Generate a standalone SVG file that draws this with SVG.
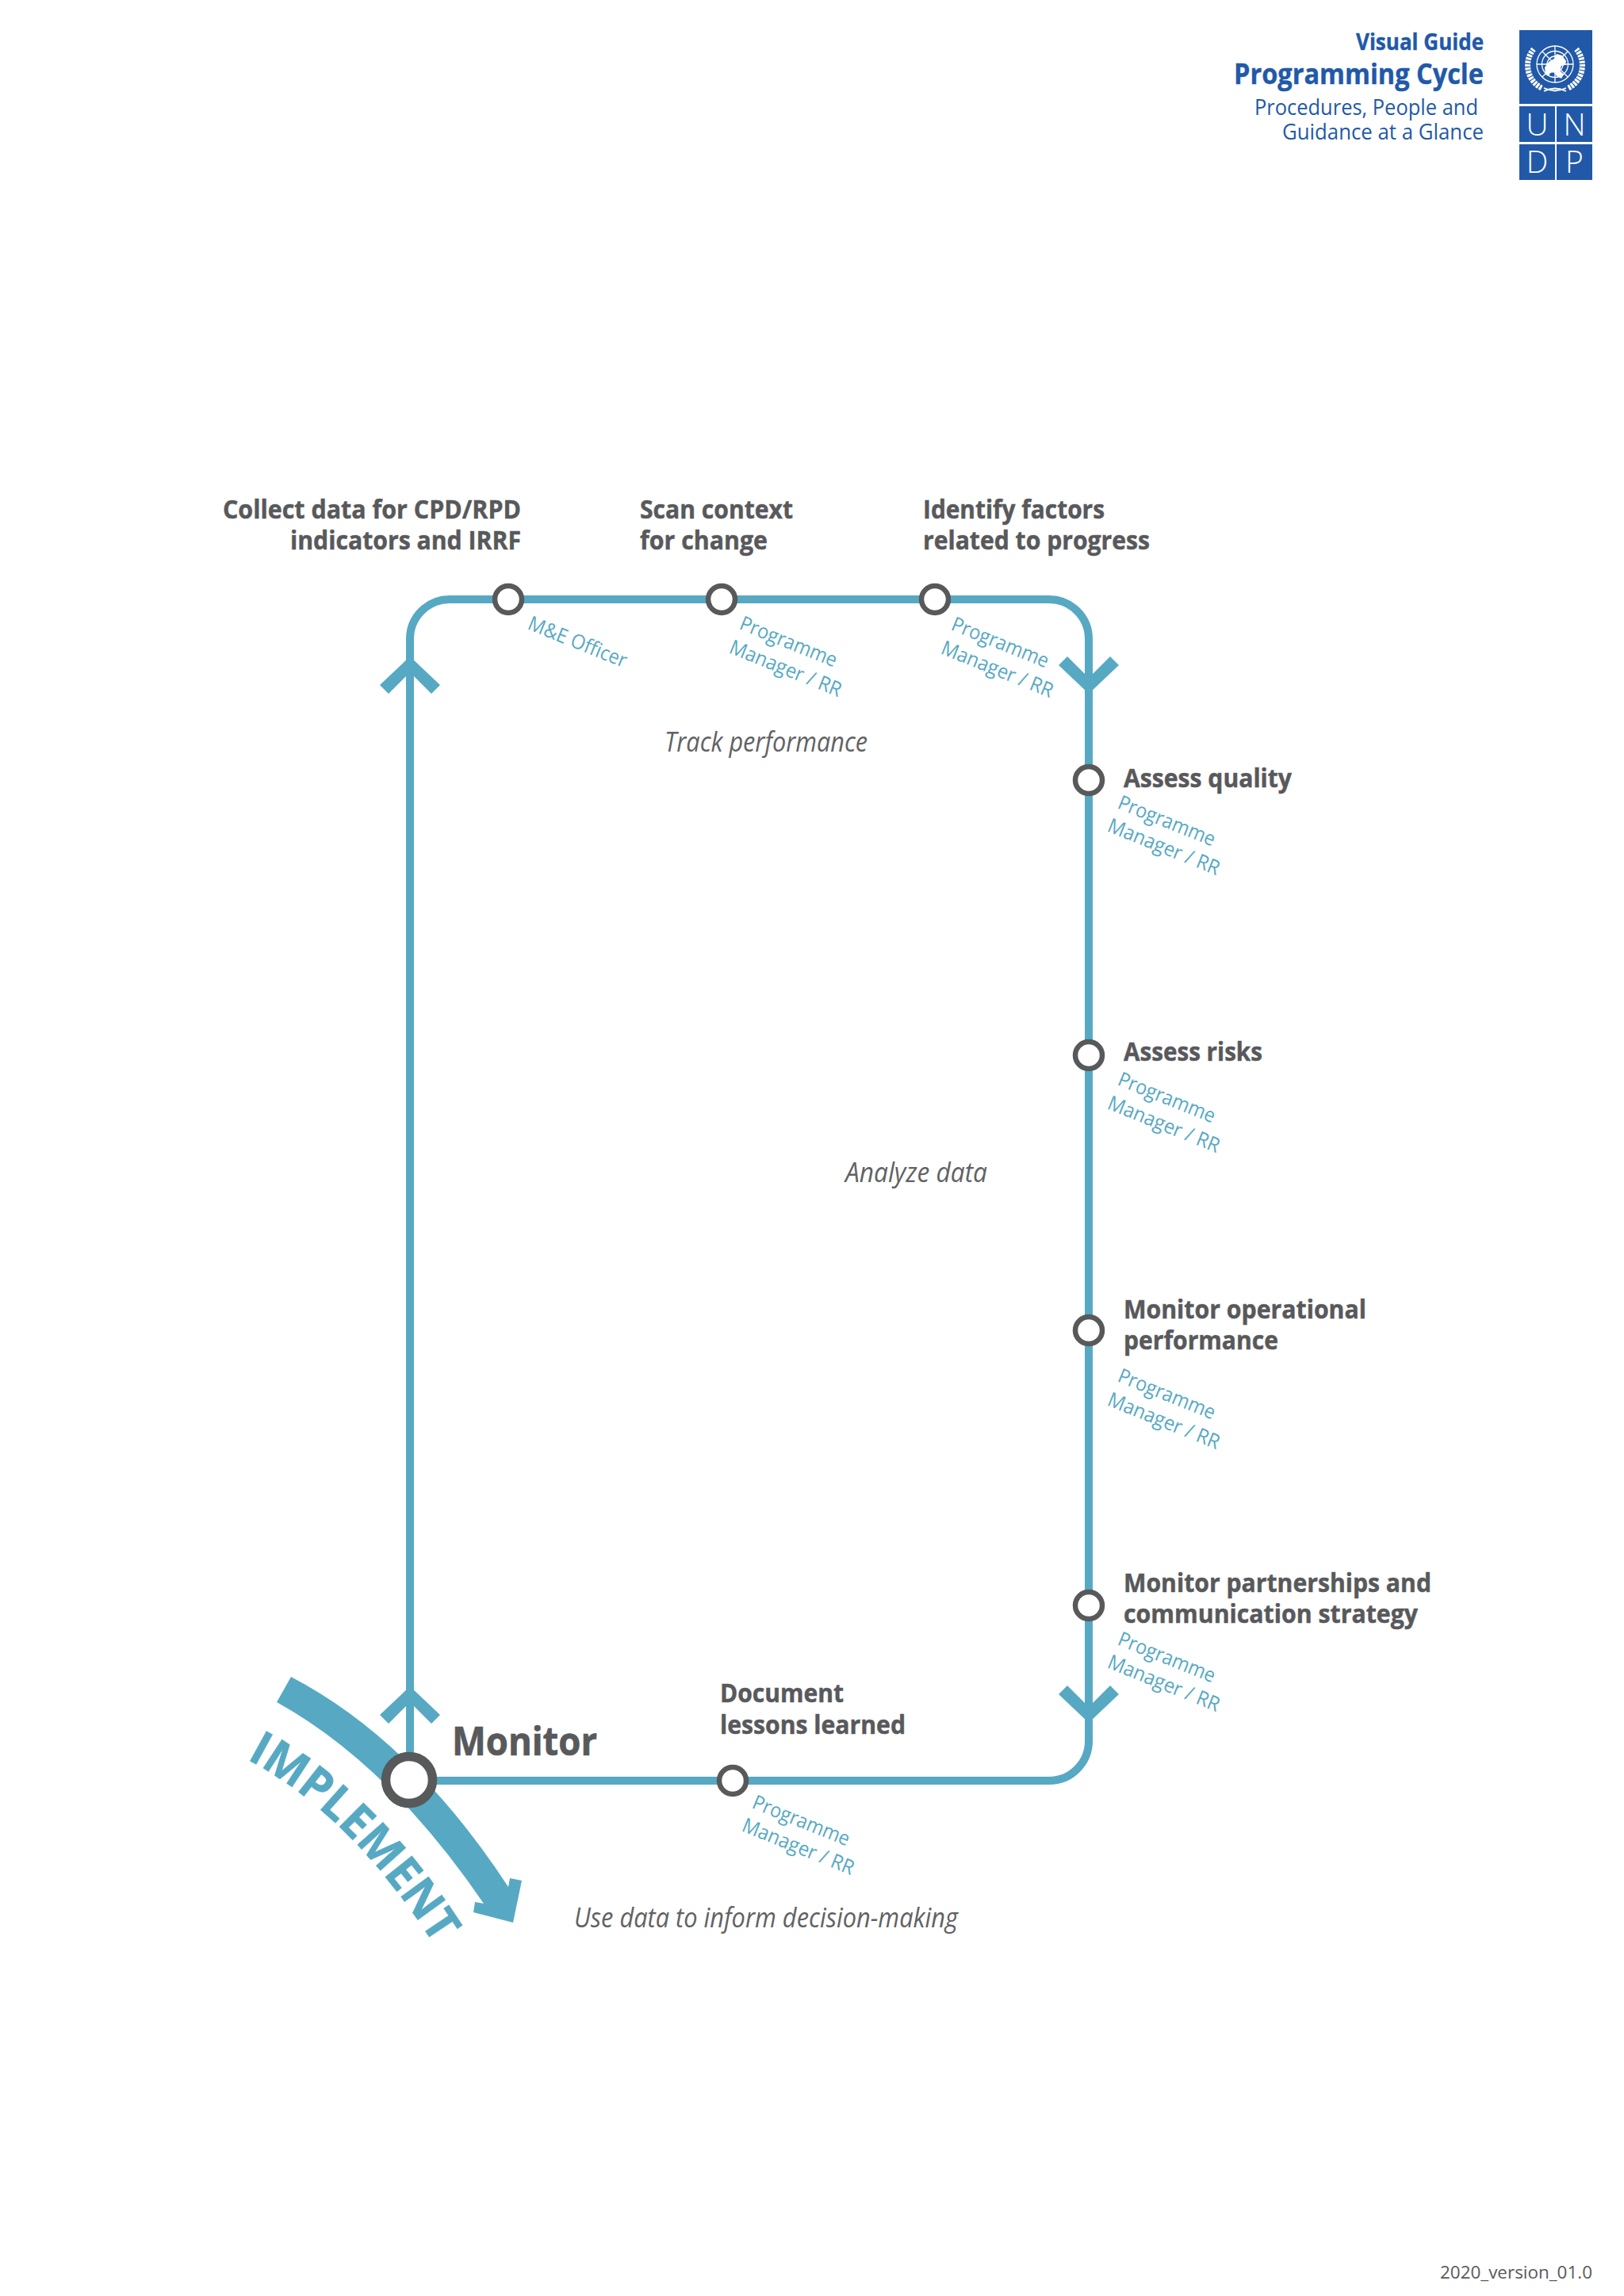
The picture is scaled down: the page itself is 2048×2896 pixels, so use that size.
<svg xmlns="http://www.w3.org/2000/svg" xmlns:xlink="http://www.w3.org/1999/xlink" width="2048" height="2896" viewBox="0 0 2048 2896">
<style>
text{font-family:"Open Sans","Noto Sans","Liberation Sans",sans-serif}
.h{font-size:33px;font-weight:700;fill:#58595B;stroke:#58595B;stroke-width:.5px}
.i{font-size:34px;font-style:italic;font-weight:400;fill:#616264}
.t{font-size:25.5px;fill:#57A9C3}
.b{fill:#2159A8}
.hb{font-weight:700;fill:#2159A8;stroke:#2159A8;stroke-width:.4px}
.hr{font-size:28px;fill:#2159A8}
.u{font-size:39px;font-weight:300;fill:#fff;text-anchor:middle}
.line{fill:none;stroke:#57A9C3;stroke-width:10}
.teal{fill:#57A9C3}
.n{fill:#fff;stroke:#58595B;stroke-width:6.5}
.w{fill:none;stroke:#fff;stroke-width:1.3}
</style>
<defs>
<path id="chev" d="M0,0L38,36L27,47L0,20L-27,47L-38,36Z"/>
<path id="implPath" d="M311,2219Q440,2286 547,2452"/>
</defs>
<rect width="2048" height="2896" fill="#fff"/>

<g id="header">
<text class="hb" x="1710" y="63" font-size="28" textLength="161" lengthAdjust="spacingAndGlyphs">Visual Guide</text>
<text class="hb" x="1556" y="106" font-size="35" textLength="315" lengthAdjust="spacingAndGlyphs">Programming Cycle</text>
<text class="hr" x="1582" y="145" textLength="282" lengthAdjust="spacingAndGlyphs">Procedures, People and</text>
<text class="hr" x="1617" y="176" textLength="254" lengthAdjust="spacingAndGlyphs">Guidance at a Glance</text>
</g>

<g id="logo">
<rect class="b" x="1916" y="38" width="92" height="93"/>
<rect class="b" x="1916" y="134" width="45" height="45"/>
<rect class="b" x="1963" y="134" width="45" height="45"/>
<rect class="b" x="1916" y="182" width="45" height="45"/>
<rect class="b" x="1963" y="182" width="45" height="45"/>
<text class="u" x="1938.5" y="171">U</text>
<text class="u" x="1985.5" y="171">N</text>
<text class="u" x="1938.5" y="218">D</text>
<text class="u" x="1985.5" y="218">P</text>
<g id="emblem">
<circle class="w" cx="1961" cy="81" r="23"/>
<circle class="w" cx="1961" cy="81" r="16.5"/>
<circle class="w" cx="1961" cy="81" r="10"/>
<path class="w" d="M1961,58V104M1938,81H1984M1945,65L1977,97M1977,65L1945,97"/>
<path fill="#fff" d="M1948,85l5,-7l7,-4l3,-6l7,2l5,7l-1,5l-5,1l-2,6l5,5l-3,5l-6,-3l-3,-5l-5,1l-2,4l-4,-2z"/>
<path fill="none" stroke="#fff" stroke-width="7" stroke-dasharray="3 1.2" d="M1944,111A32,32 0 0 1 1934,62"/>
<path fill="none" stroke="#fff" stroke-width="7" stroke-dasharray="3 1.2" d="M1978,111A32,32 0 0 0 1988,62"/>
<path fill="none" stroke="#fff" stroke-width="1.8" d="M1947,111Q1961,118 1975,111M1947,115Q1961,108 1975,115"/>
</g>
</g>

<g id="connectors">
<path class="line" d="M517,2246V806A50,50 0 0 1 567,756H1323A50,50 0 0 1 1373,806V2196A50,50 0 0 1 1323,2246H517"/>
<use class="teal" xlink:href="#chev" href="#chev" transform="translate(517,828)"/>
<use class="teal" xlink:href="#chev" href="#chev" transform="translate(517,2127)"/>
<use class="teal" xlink:href="#chev" href="#chev" transform="translate(1373,875) scale(1,-1)"/>
<use class="teal" xlink:href="#chev" href="#chev" transform="translate(1373,2173) scale(1,-1)"/>
</g>

<g id="implement">
<path class="teal" d="M367,2115Q520,2195 641,2380L643,2369L658,2372L647,2425L597,2412L599,2399L610,2401Q490,2225 349,2147Z"/>
<text font-size="60" font-weight="700" fill="#57A9C3" stroke="#57A9C3" stroke-width=".6" textLength="337" lengthAdjust="spacingAndGlyphs"><textPath xlink:href="#implPath" href="#implPath">IMPLEMENT</textPath></text>
</g>

<g id="node-monitor">
<circle cx="516" cy="2245" r="29.5" fill="#fff" stroke="#58595B" stroke-width="11.5"/>
<text x="570" y="2214" font-size="50" font-weight="700" fill="#58595B" stroke="#58595B" stroke-width=".7" textLength="183" lengthAdjust="spacingAndGlyphs">Monitor</text>
</g>

<g id="node-collect">
<circle class="n" cx="641" cy="756" r="17"/>
<text class="h" x="281" y="654" textLength="376" lengthAdjust="spacingAndGlyphs">Collect data for CPD/RPD</text>
<text class="h" x="366" y="693" textLength="291" lengthAdjust="spacingAndGlyphs">indicators and IRRF</text>
<text class="t" transform="translate(664,793) rotate(22)" textLength="132" lengthAdjust="spacingAndGlyphs">M&amp;E Officer</text>
</g>

<g id="node-scan">
<circle class="n" cx="910" cy="756" r="17"/>
<text class="h" x="807" y="654" textLength="193" lengthAdjust="spacingAndGlyphs">Scan context</text>
<text class="h" x="807" y="693" textLength="161" lengthAdjust="spacingAndGlyphs">for change</text>
<text class="t" transform="translate(931,793) rotate(22)" textLength="130" lengthAdjust="spacingAndGlyphs">Programme</text>
<text class="t" transform="translate(918,823) rotate(22)" textLength="150" lengthAdjust="spacingAndGlyphs">Manager / RR</text>
</g>

<g id="node-identify">
<circle class="n" cx="1179" cy="756" r="17"/>
<text class="h" x="1164" y="654" textLength="229" lengthAdjust="spacingAndGlyphs">Identify factors</text>
<text class="h" x="1164" y="693" textLength="286" lengthAdjust="spacingAndGlyphs">related to progress</text>
<text class="t" transform="translate(1198,794) rotate(22)" textLength="130" lengthAdjust="spacingAndGlyphs">Programme</text>
<text class="t" transform="translate(1185,824) rotate(22)" textLength="150" lengthAdjust="spacingAndGlyphs">Manager / RR</text>
</g>

<g id="node-quality">
<circle class="n" cx="1373" cy="984" r="17"/>
<text class="h" x="1417" y="993" textLength="212" lengthAdjust="spacingAndGlyphs">Assess quality</text>
<text class="t" transform="translate(1408,1019) rotate(22)" textLength="130" lengthAdjust="spacingAndGlyphs">Programme</text>
<text class="t" transform="translate(1395,1048) rotate(22)" textLength="150" lengthAdjust="spacingAndGlyphs">Manager / RR</text>
</g>

<g id="node-risks">
<circle class="n" cx="1373" cy="1331" r="17"/>
<text class="h" x="1417" y="1338" textLength="175" lengthAdjust="spacingAndGlyphs">Assess risks</text>
<text class="t" transform="translate(1408,1368) rotate(22)" textLength="130" lengthAdjust="spacingAndGlyphs">Programme</text>
<text class="t" transform="translate(1395,1398) rotate(22)" textLength="150" lengthAdjust="spacingAndGlyphs">Manager / RR</text>
</g>

<g id="node-operational">
<circle class="n" cx="1373" cy="1678" r="17"/>
<text class="h" x="1417" y="1663" textLength="306" lengthAdjust="spacingAndGlyphs">Monitor operational</text>
<text class="h" x="1417" y="1702" textLength="195" lengthAdjust="spacingAndGlyphs">performance</text>
<text class="t" transform="translate(1408,1742) rotate(22)" textLength="130" lengthAdjust="spacingAndGlyphs">Programme</text>
<text class="t" transform="translate(1395,1772) rotate(22)" textLength="150" lengthAdjust="spacingAndGlyphs">Manager / RR</text>
</g>

<g id="node-partnerships">
<circle class="n" cx="1373" cy="2025" r="17"/>
<text class="h" x="1417" y="2008" textLength="388" lengthAdjust="spacingAndGlyphs">Monitor partnerships and</text>
<text class="h" x="1417" y="2047" textLength="371" lengthAdjust="spacingAndGlyphs">communication strategy</text>
<text class="t" transform="translate(1408,2074) rotate(22)" textLength="130" lengthAdjust="spacingAndGlyphs">Programme</text>
<text class="t" transform="translate(1395,2103) rotate(22)" textLength="150" lengthAdjust="spacingAndGlyphs">Manager / RR</text>
</g>

<g id="node-document">
<circle class="n" cx="924" cy="2246" r="17"/>
<text class="h" x="908" y="2147" textLength="156" lengthAdjust="spacingAndGlyphs">Document</text>
<text class="h" x="908" y="2187" textLength="234" lengthAdjust="spacingAndGlyphs">lessons learned</text>
<text class="t" transform="translate(947,2280) rotate(22)" textLength="130" lengthAdjust="spacingAndGlyphs">Programme</text>
<text class="t" transform="translate(934,2309) rotate(22)" textLength="150" lengthAdjust="spacingAndGlyphs">Manager / RR</text>
</g>

<g id="phases">
<text class="i" x="838" y="948" textLength="256" lengthAdjust="spacingAndGlyphs">Track performance</text>
<text class="i" x="1066" y="1491" textLength="179" lengthAdjust="spacingAndGlyphs">Analyze data</text>
<text class="i" x="724" y="2431" textLength="484" lengthAdjust="spacingAndGlyphs">Use data to inform decision-making</text>
</g>

<text x="1816" y="2874" font-size="22" fill="#58595B" textLength="192" lengthAdjust="spacingAndGlyphs">2020_version_01.0</text>
</svg>
